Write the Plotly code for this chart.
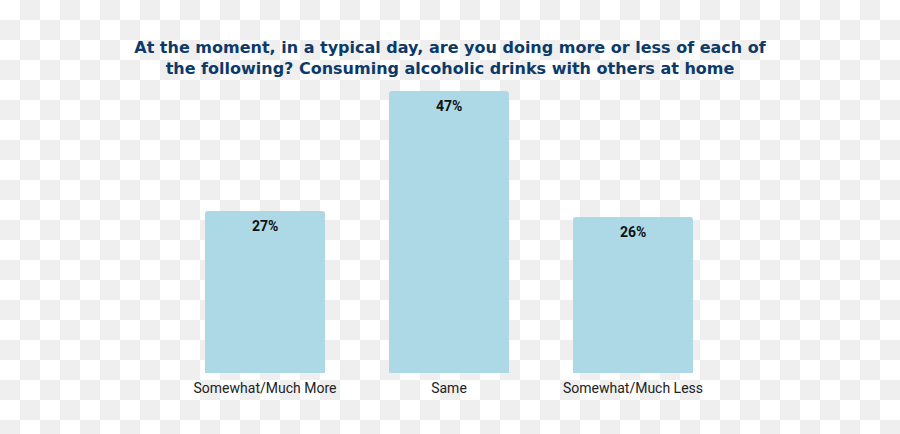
import plotly.graph_objects as go

categories = ["Somewhat/Much More", "Same", "Somewhat/Much Less"]
values = [27, 47, 26]
labels = ["27%", "47%", "26%"]

title_text = ("At the moment, in a typical day, are you doing more or less of each of<br>"
              "the following? Consuming alcoholic drinks with others at home")

W, H = 900, 434
SQ = 20
ml, mr, mt, mb = 173, 175, 73, 61
pw, ph = W - ml - mr, H - mt - mb

shapes = []
for i in range(W // SQ + 1):
    for j in range(H // SQ + 1):
        if (i + j) % 2 == 1:
            px, py = i * SQ, j * SQ
            shapes.append(dict(type="rect", xref="paper", yref="paper",
                               x0=(px - ml) / pw, x1=(px + SQ - ml) / pw,
                               y1=(H - mb - py) / ph, y0=(H - mb - py - SQ) / ph,
                               layer="below", line=dict(width=0),
                               fillcolor="#efefef"))

fig = go.Figure()
fig.add_trace(go.Bar(
    x=categories, y=values,
    marker=dict(color="#add8e6", line=dict(width=0)),
    hoverinfo="skip",
))
for c, v, t in zip(categories, values, labels):
    fig.add_annotation(x=c, y=v, text=t, showarrow=False, yanchor="top",
                       yshift=-5,
                       font=dict(family="Roboto", size=14, color="#111111", weight="bold"))
fig.update_layout(
    width=W, height=H,
    margin=dict(l=ml, r=mr, t=mt, b=mb),
    paper_bgcolor="rgba(0,0,0,0)", plot_bgcolor="rgba(0,0,0,0)",
    bargap=0.348, barcornerradius=3,
    shapes=shapes,
    showlegend=False,
    title=dict(text=title_text, x=0.5, xanchor="center", xref="container",
               y=1 - 53 / H, yanchor="middle", yref="container",
               font=dict(family="DejaVu Sans", size=16, color="#0d3a69", weight="bold")),
    xaxis=dict(range=[-0.5, 2.5], showgrid=False, zeroline=False, showline=False,
               ticks="", ticklabelstandoff=5,
               tickfont=dict(family="Roboto", size=14, color="#222222")),
    yaxis=dict(range=[0, 50], visible=False),
)
fig.write_html("out.html")
